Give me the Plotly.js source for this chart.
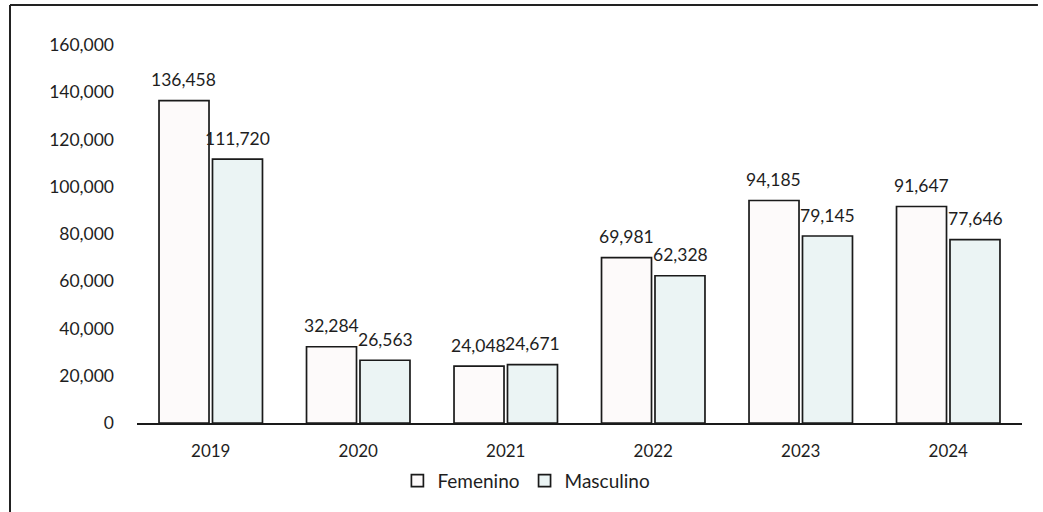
<!DOCTYPE html>
<html>
<head>
<meta charset="utf-8">
<script src="https://cdn.plot.ly/plotly-3.0.1.min.js"></script>
<style>html,body{margin:0;padding:0;background:#fff;}#chart{width:1043px;height:512px;}</style>
</head>
<body>
<div id="chart"></div>
<script>
const years = ["2019", "2020", "2021", "2022", "2023", "2024"];
const femenino = [136458, 32284, 24048, 69981, 94185, 91647];
const masculino = [111720, 26563, 24671, 62328, 79145, 77646];
const yTicks = [0, 20000, 40000, 60000, 80000, 100000, 120000, 140000, 160000];

const FONT = "Lato, 'Open Sans', sans-serif";
const TXT = "#1e1e1e";

const traces = [
  {type: "bar", name: "Femenino", x: years, y: femenino,
   marker: {color: "#fdfafa", line: {color: "#1a1a1a", width: 1.7}}, hoverinfo: "skip"},
  {type: "bar", name: "Masculino", x: years, y: masculino,
   marker: {color: "#ebf4f4", line: {color: "#1a1a1a", width: 1.7}}, hoverinfo: "skip"}
];

const fmt = v => v.toLocaleString("en-US");
const annotations = [];
[[femenino, -27], [masculino, 27]].forEach(([arr, dx]) => {
  arr.forEach((v, i) => {
    annotations.push({x: i, y: v, xref: "x", yref: "y", text: fmt(v),
      showarrow: false, xshift: dx, yshift: 21, yanchor: "middle",
      font: {family: FONT, size: 17.5, color: TXT}});
  });
});

const layout = {
  width: 1043, height: 512,
  margin: {l: 137, r: 21, t: 45, b: 89},
  paper_bgcolor: "#ffffff", plot_bgcolor: "#ffffff",
  barmode: "group", bargap: 0.275, bargroupgap: 0.065,
  font: {family: FONT, size: 17, color: TXT},
  xaxis: {type: "category", range: [-0.5, 5.5], showgrid: false, zeroline: false, showline: true,
    linecolor: "#1a1a1a", linewidth: 1.7, ticks: "", tickfont: {size: 17, color: TXT},
    ticklabelstandoff: 12},
  yaxis: {range: [0, 160000], tickvals: yTicks, ticktext: yTicks.map(fmt),
    showgrid: false, zeroline: false, showline: false, ticks: "",
    ticklabelstandoff: 22, tickfont: {size: 17.5, color: TXT}},
  showlegend: true,
  legend: {orientation: "h", x: 0.440, xanchor: "center", y: -0.153, yanchor: "middle",
    font: {size: 19, color: TXT}, itemwidth: 30, traceorder: "normal"},
  annotations: annotations,
  shapes: [
    {type: "line", xref: "paper", yref: "paper", x0: -0.1435, x1: 1.018, y0: 1.1058, y1: 1.1058,
     line: {color: "#222", width: 2}},
    {type: "line", xref: "paper", yref: "paper", x0: -0.1435, x1: -0.1435, y0: 1.1058, y1: -0.24,
     line: {color: "#222", width: 2}}
  ]
};

Plotly.newPlot("chart", traces, layout, {staticPlot: true, displayModeBar: false});
</script>
</body>
</html>
